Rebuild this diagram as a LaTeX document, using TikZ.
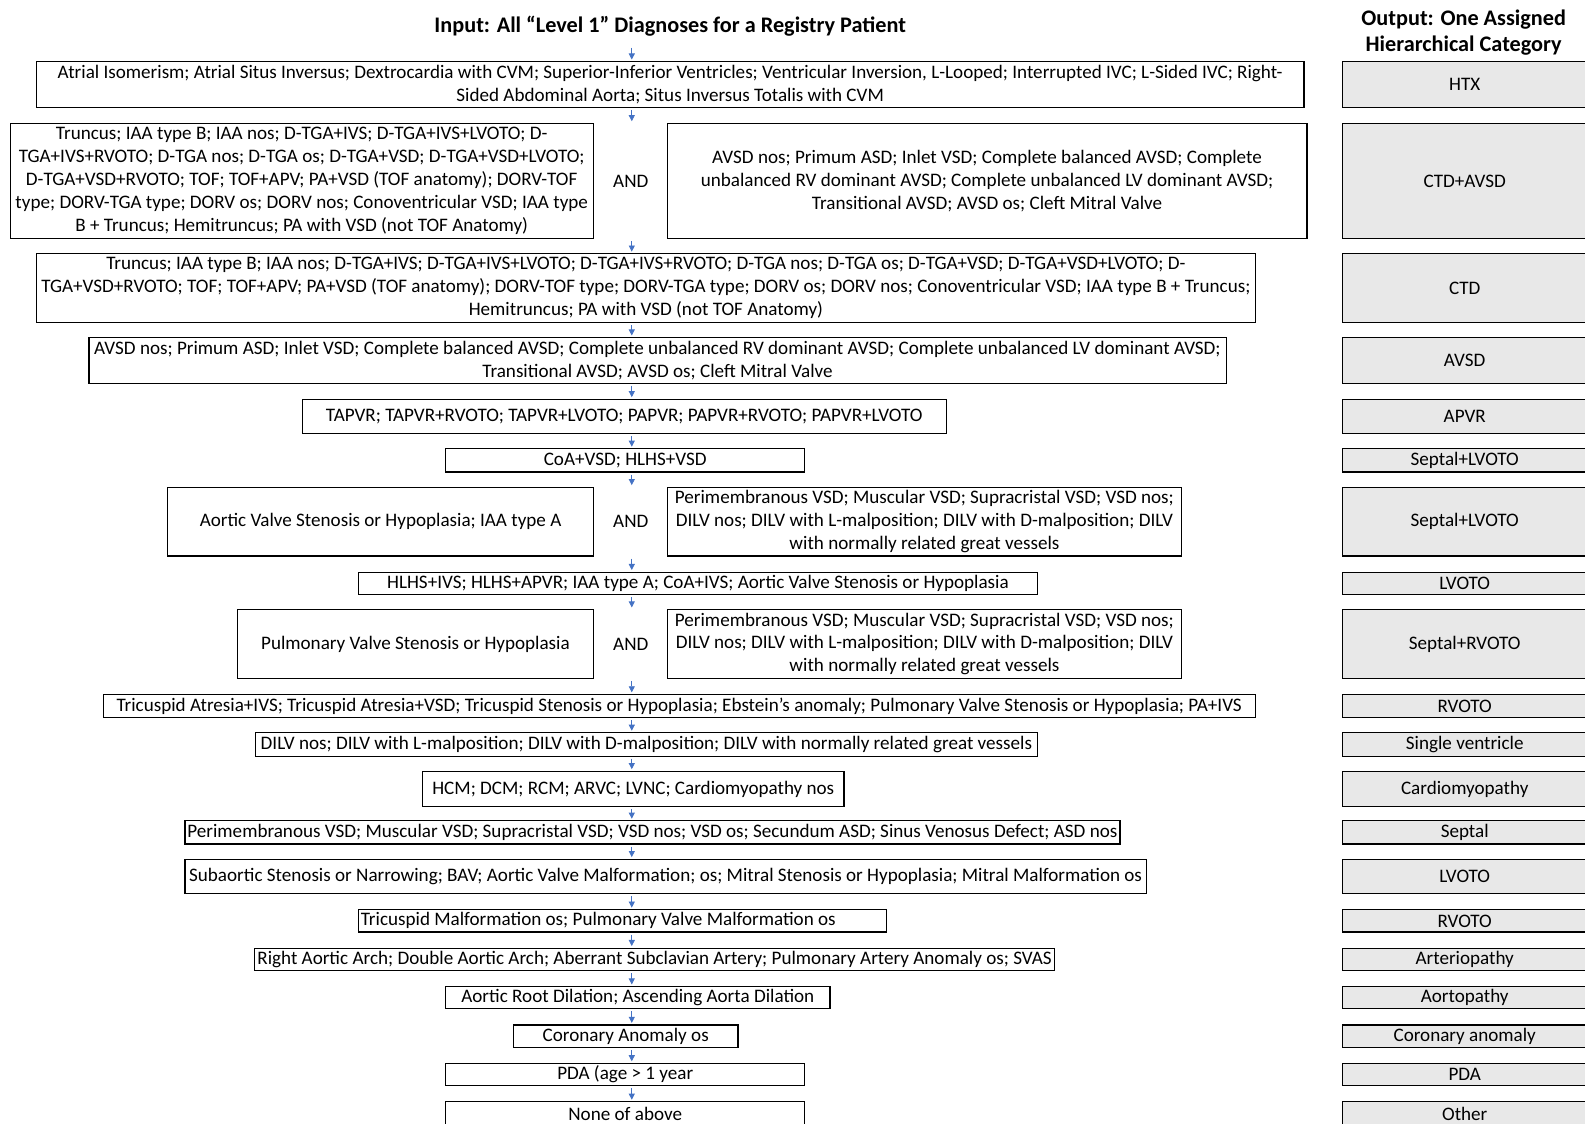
\documentclass[tikz,border=0pt]{standalone}
\usepackage{fontspec}
\setmainfont{Carlito}
\usetikzlibrary{arrows.meta}
\definecolor{flowblue}{HTML}{4472C4}
\newcommand{\dxfont}{\fontsize{18.9}{22.6}\selectfont}
\newcommand{\headfont}{\fontsize{22}{26}\selectfont\bfseries}

\begin{document}
\begin{tikzpicture}[x=1pt, y=-1pt,
  dx/.style={draw=black, line width=1.2pt, fill=white, inner sep=0pt, align=center, font=\dxfont},
  cat/.style={dx, fill=black!9, minimum width=242pt},
  flow/.style={draw=flowblue, line width=0.8pt, -{Triangle[width=6pt,length=6pt]}, shorten <=2pt, shorten >=1.5pt}]
\useasboundingbox (0,0) rectangle (1568,1111);
\coordinate (ax) at (625,0);

%titles
\node[font=\headfont, inner sep=0pt] (input) at (663,26) {Input: All “Level 1” Diagnoses for a Registry Patient};
\node[font=\headfont, align=center, inner sep=0pt] (output) at (1448,32) {Output: One Assigned\\Hierarchical Category};

%input diagnoses
\node[dx, minimum width=1254pt, minimum height=45pt] (htx) at (663,83.5) {Atrial Isomerism; Atrial Situs Inversus; Dextrocardia with CVM; Superior-Inferior Ventricles; Ventricular Inversion, L-Looped; Interrupted IVC; L-Sided IVC; Right-\\Sided Abdominal Aorta; Situs Inversus Totalis with CVM};
\node[dx, minimum width=577pt, minimum height=114pt] (ctdavsdL) at (298.5,179) {Truncus; IAA type B; IAA nos; D-TGA+IVS; D-TGA+IVS+LVOTO; D-\\TGA+IVS+RVOTO; D-TGA nos; D-TGA os; D-TGA+VSD; D-TGA+VSD+LVOTO;\\D-TGA+VSD+RVOTO; TOF; TOF+APV; PA+VSD (TOF anatomy); DORV-TOF\\type; DORV-TGA type; DORV os; DORV nos; Conoventricular VSD; IAA type\\B + Truncus; Hemitruncus; PA with VSD (not TOF Anatomy)};
\node[font=\dxfont] (and1) at (624,179) {AND};
\node[dx, minimum width=633pt, minimum height=114pt] (ctdavsdR) at (976.5,179) {AVSD nos; Primum ASD; Inlet VSD; Complete balanced AVSD; Complete\\unbalanced RV dominant AVSD; Complete unbalanced LV dominant AVSD;\\Transitional AVSD; AVSD os; Cleft Mitral Valve};
\node[dx, minimum width=1206pt, minimum height=68pt] (ctd) at (639,285) {Truncus; IAA type B; IAA nos; D-TGA+IVS; D-TGA+IVS+LVOTO; D-TGA+IVS+RVOTO; D-TGA nos; D-TGA os; D-TGA+VSD; D-TGA+VSD+LVOTO; D-\\TGA+VSD+RVOTO; TOF; TOF+APV; PA+VSD (TOF anatomy); DORV-TOF type; DORV-TGA type; DORV os; DORV nos; Conoventricular VSD; IAA type B + Truncus;\\Hemitruncus; PA with VSD (not TOF Anatomy)};
\node[dx, minimum width=1125pt, minimum height=45pt] (avsd) at (650.5,356.5) {AVSD nos; Primum ASD; Inlet VSD; Complete balanced AVSD; Complete unbalanced RV dominant AVSD; Complete unbalanced LV dominant AVSD;\\Transitional AVSD; AVSD os; Cleft Mitral Valve};
\node[dx, minimum width=637pt, minimum height=34pt] (apvr) at (617.5,412) {TAPVR; TAPVR+RVOTO; TAPVR+LVOTO; PAPVR; PAPVR+RVOTO; PAPVR+LVOTO};
\node[dx, minimum width=355pt, minimum height=23pt] (slvotoA) at (618.5,455.5) {CoA+VSD; HLHS+VSD};
\node[dx, minimum width=421pt, minimum height=68pt] (slvotoL) at (376.5,516) {Aortic Valve Stenosis or Hypoplasia; IAA type A};
\node[font=\dxfont] (and2) at (624,516) {AND};
\node[dx, minimum width=509pt, minimum height=68pt] (slvotoR) at (914.5,516) {Perimembranous VSD; Muscular VSD; Supracristal VSD; VSD nos;\\DILV nos; DILV with L-malposition; DILV with D-malposition; DILV\\with normally related great vessels};
\node[dx, minimum width=671pt, minimum height=22pt] (lvotoA) at (690.5,577) {HLHS+IVS; HLHS+APVR; IAA type A; CoA+IVS; Aortic Valve Stenosis or Hypoplasia};
\node[dx, minimum width=352pt, minimum height=68pt] (srvotoL) at (411,637) {Pulmonary Valve Stenosis or Hypoplasia};
\node[font=\dxfont] (and3) at (624,637) {AND};
\node[dx, minimum width=509pt, minimum height=68pt] (srvotoR) at (914.5,637) {Perimembranous VSD; Muscular VSD; Supracristal VSD; VSD nos;\\DILV nos; DILV with L-malposition; DILV with D-malposition; DILV\\with normally related great vessels};
\node[dx, minimum width=1140pt, minimum height=23pt] (rvotoA) at (672,698.5) {Tricuspid Atresia+IVS; Tricuspid Atresia+VSD; Tricuspid Stenosis or Hypoplasia; Ebstein’s anomaly; Pulmonary Valve Stenosis or Hypoplasia; PA+IVS};
\node[dx, minimum width=773pt, minimum height=23pt] (sv) at (639.5,736.5) {DILV nos; DILV with L-malposition; DILV with D-malposition; DILV with normally related great vessels};
\node[dx, minimum width=417pt, minimum height=35pt] (cm) at (626.5,780.5) {HCM; DCM; RCM; ARVC; LVNC; Cardiomyopathy nos};
\node[dx, minimum width=925pt, minimum height=23pt] (septal) at (645.5,823.5) {Perimembranous VSD; Muscular VSD; Supracristal VSD; VSD nos; VSD os; Secundum ASD; Sinus Venosus Defect; ASD nos};
\node[dx, minimum width=951pt, minimum height=34pt] (lvotoB) at (658.5,867) {Subaortic Stenosis or Narrowing; BAV; Aortic Valve Malformation; os; Mitral Stenosis or Hypoplasia; Mitral Malformation os};
\node[dx, inner xsep=2pt, text width=518pt, align=flush left, minimum height=22pt] (rvotoB) at (616,911) {Tricuspid Malformation os; Pulmonary Valve Malformation os};
\node[dx, minimum width=791pt, minimum height=22pt] (arter) at (647.5,949) {Right Aortic Arch; Double Aortic Arch; Aberrant Subclavian Artery; Pulmonary Artery Anomaly os; SVAS};
\node[dx, minimum width=380pt, minimum height=22pt] (aorto) at (631,987) {Aortic Root Dilation; Ascending Aorta Dilation};
\node[dx, minimum width=222pt, minimum height=22pt] (coron) at (619,1025) {Coronary Anomaly os};
\node[dx, minimum width=355pt, minimum height=22pt] (pda) at (618.5,1063) {PDA (age > 1 year};
\node[dx, minimum width=355pt, minimum height=24pt] (none) at (618.5,1102) {None of above};

%output categories
\node[cat, minimum height=45pt] (c-htx) at (1449,83.5) {HTX};
\node[cat, minimum height=114pt] (c-ctdavsd) at (1449,179) {CTD+AVSD};
\node[cat, minimum height=68pt] (c-ctd) at (1449,285) {CTD};
\node[cat, minimum height=45pt] (c-avsd) at (1449,356.5) {AVSD};
\node[cat, minimum height=34pt] (c-apvr) at (1449,412) {APVR};
\node[cat, minimum height=23pt] (c-slvotoA) at (1449,455.5) {Septal+LVOTO};
\node[cat, minimum height=68pt] (c-slvotoB) at (1449,516) {Septal+LVOTO};
\node[cat, minimum height=22pt] (c-lvotoA) at (1449,577) {LVOTO};
\node[cat, minimum height=68pt] (c-srvoto) at (1449,637) {Septal+RVOTO};
\node[cat, minimum height=23pt] (c-rvotoA) at (1449,698.5) {RVOTO};
\node[cat, minimum height=23pt] (c-sv) at (1449,736.5) {Single ventricle};
\node[cat, minimum height=35pt] (c-cm) at (1449,780.5) {Cardiomyopathy};
\node[cat, minimum height=23pt] (c-septal) at (1449,823.5) {Septal};
\node[cat, minimum height=34pt] (c-lvotoB) at (1449,867) {LVOTO};
\node[cat, minimum height=22pt] (c-rvotoB) at (1449,911) {RVOTO};
\node[cat, minimum height=22pt] (c-arter) at (1449,949) {Arteriopathy};
\node[cat, minimum height=22pt] (c-aorto) at (1449,987) {Aortopathy};
\node[cat, minimum height=22pt] (c-coron) at (1449,1025) {Coronary anomaly};
\node[cat, minimum height=22pt] (c-pda) at (1449,1063) {PDA};
\node[cat, minimum height=24pt] (c-none) at (1449,1102) {Other};

%flow arrows
\draw[flow, shorten <=11pt] (input.south -| ax) -- (htx.north -| ax);
\draw[flow] (htx.south -| ax) -- (ctdavsdL.north -| ax);
\draw[flow] (ctdavsdL.south -| ax) -- (ctd.north -| ax);
\draw[flow] (ctd.south -| ax) -- (avsd.north -| ax);
\draw[flow] (avsd.south -| ax) -- (apvr.north -| ax);
\draw[flow] (apvr.south -| ax) -- (slvotoA.north -| ax);
\draw[flow] (slvotoA.south -| ax) -- (slvotoL.north -| ax);
\draw[flow] (slvotoL.south -| ax) -- (lvotoA.north -| ax);
\draw[flow] (lvotoA.south -| ax) -- (srvotoL.north -| ax);
\draw[flow] (srvotoL.south -| ax) -- (rvotoA.north -| ax);
\draw[flow] (rvotoA.south -| ax) -- (sv.north -| ax);
\draw[flow] (sv.south -| ax) -- (cm.north -| ax);
\draw[flow] (cm.south -| ax) -- (septal.north -| ax);
\draw[flow] (septal.south -| ax) -- (lvotoB.north -| ax);
\draw[flow] (lvotoB.south -| ax) -- (rvotoB.north -| ax);
\draw[flow] (rvotoB.south -| ax) -- (arter.north -| ax);
\draw[flow] (arter.south -| ax) -- (aorto.north -| ax);
\draw[flow] (aorto.south -| ax) -- (coron.north -| ax);
\draw[flow] (coron.south -| ax) -- (pda.north -| ax);
\draw[flow] (pda.south -| ax) -- (none.north -| ax);
\end{tikzpicture}
\end{document}
